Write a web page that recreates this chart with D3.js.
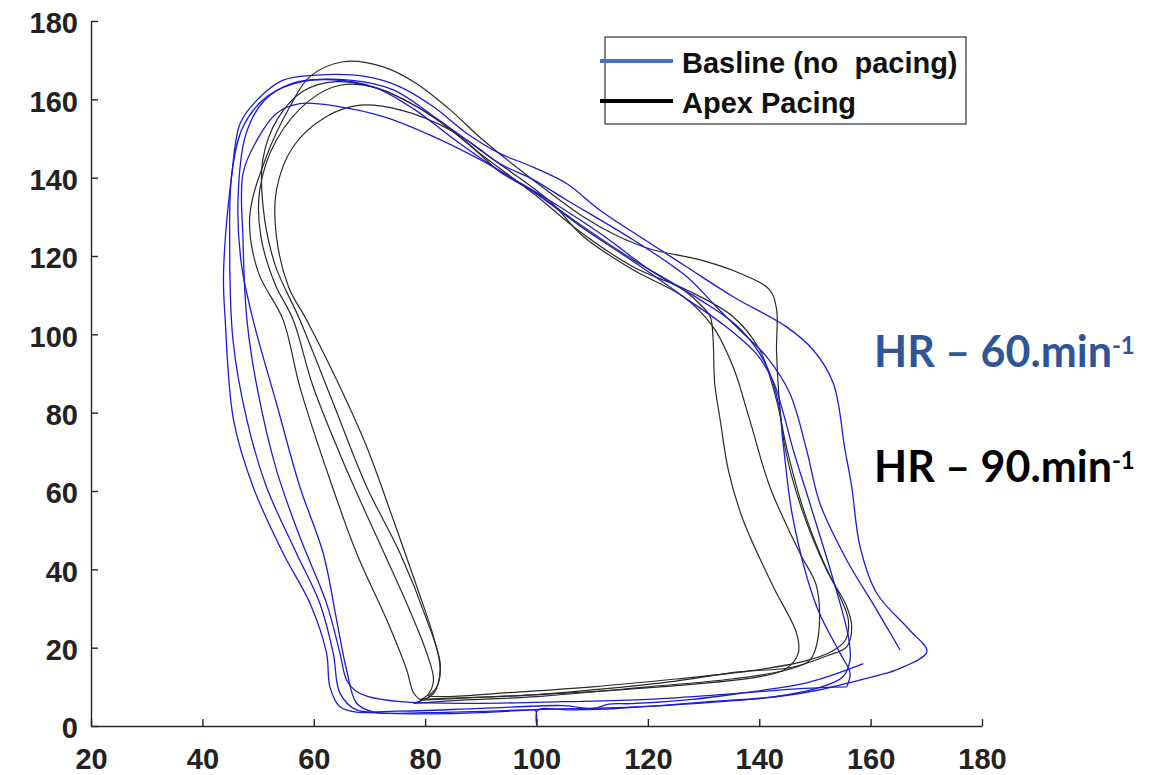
<!DOCTYPE html>
<html><head><meta charset="utf-8">
<script src="https://cdn.jsdelivr.net/npm/d3@7"></script>
<style>body{margin:0;background:#fff;}svg{display:block;}</style>
</head><body>
<svg id="chart" width="1157" height="775"></svg>
<script>
// ---- data: [volume, pressure] ----
const xTicks = [20,40,60,80,100,120,140,160,180];
const yTicks = [0,20,40,60,80,100,120,140,160,180];
const seriesNames = ["Basline (no  pacing)", "Apex Pacing"];
const hrLabels = ["HR \u2013 60.min", "HR \u2013 90.min"];
const hrSuper = ["-1", "-1"];

const baselineLoop1 = [[68,3.5],[80,3.1],[90,3.4],[97.8,4],[99.8,4],[100,0.4],[100.2,4],[106,4.1],[113.8,4.4],[121,5.1],[129.9,6.1],[142.7,7.4],[150,9],[155.5,10.8],[161,12.8],[165.1,14.6],[170.1,19],[167,24.5],[161.1,33.9],[158.1,45.8],[156.6,61.1],[155.4,70.5],[153.3,87.5],[149.7,96],[144.9,101.9],[135.3,109.6],[127,117.2],[118.6,124.9],[111.4,131.7],[105.4,138.5],[99.4,142.7],[93.4,146.2],[87.5,151.3],[81.5,158.1],[75.5,163.2],[69.5,165.8],[60.5,166.2],[54.5,164.9],[49.8,159.8],[46.8,153.9],[45.3,141.1],[43.8,115.6],[44.1,103.7],[45.6,78.1],[49.1,61.1],[54.5,44.1],[59.3,31.4],[62.3,18.6],[62.9,10],[64.7,4.9],[68,3.5]];
const baselineLoop2 = [[165.3,19.4],[161.1,29.6],[155.7,42.4],[150.9,56.8],[148.5,70.5],[145.5,84.9],[141.3,94.3],[136.5,101.1],[132.3,107],[127,114.7],[117.4,124.1],[105.4,134.3],[99.4,139.5],[93.4,143.6],[87.5,149.6],[81.5,155.7],[74.3,162.4],[66.5,164.9],[57.5,164.4],[51.6,160.7],[47.3,153],[45.3,141.1],[44.9,124.1],[45.5,98.5],[48,78.1],[51.5,61.1],[56.9,44.1],[61.1,31.3],[63.5,18.6],[64.7,8.4],[67.7,4.1],[75,3.8],[90,4.5],[105,5.2],[110,4.4],[113,5.6],[117,5.7],[128,6.8],[136.3,8.3],[149,11.2],[158.7,15.9]];
const baselineLoop3 = [[155.7,10],[156.3,13.5],[154.5,18.6],[150.3,30.5],[146.1,52.6],[144.3,72],[143.5,82],[141.3,92],[136.5,101.5],[129.4,108.8],[120.4,116.4],[111.4,125.8],[102,134.5],[96,139.5],[90.4,144.2],[81.5,150.5],[72.5,155.6],[64.7,158.1],[57.5,158.9],[53.3,156.4],[49.8,149.6],[47.3,141.1],[47.3,124.1],[48,103.7],[49.8,86.6],[53.3,65.4],[57.5,48.3],[62.3,31.3],[64.7,18.6],[65.9,11.7],[67.5,9],[69.5,7.6],[75.5,6.2],[90,5.8],[105,6.2],[120,6.8],[135,8.2],[148,9.6],[155.7,10]];
const baselineLoop4 = [[140,7],[150,9.5],[155,12.5],[156.3,16.8],[156,22.8],[153.3,37.3],[149.1,56.8],[146.1,70.5],[144.3,80],[142.5,88],[139.5,95],[134,102],[126,110],[118,118],[108,127.5],[99.4,136.5],[92,143],[85,150],[78,157.5],[71,163],[63.5,165],[56,164],[51,159.5],[47.8,151],[46.4,134.3],[47,118],[49.1,103.7],[53.3,82.4],[57.5,61.1],[61.7,44.1],[64.1,27.1],[65.9,14.3],[67.7,5.8],[70.7,3.6],[80,3.4],[100,4.2],[120,5],[140,7]];

const pacingLoop1 = [[79,6.8],[90,7.4],[97.8,7.8],[110,9.2],[123.5,11.2],[136.3,13.8],[145.9,15],[152.3,18],[155.7,20.2],[156.6,25.3],[155.7,30.5],[152.1,39.8],[147.3,56.8],[144.5,72],[143.5,85],[143.1,96],[143.1,106.5],[141.8,111.5],[136.5,115.6],[129.4,119],[120.4,121.8],[114,125.5],[108.4,130],[99.4,139.4],[90.4,149.6],[84.5,157.3],[78.5,164],[72.5,168.3],[65.3,169.6],[59.3,165.8],[55.7,158.1],[51.5,145.4],[48.5,130],[50,116],[54.5,103.7],[57.5,86.6],[62.3,65.4],[67.7,44.1],[73.1,27.1],[76.7,14.3],[77.9,8.5],[79,6.8]];
const pacingLoop2 = [[79.1,6.6],[85,7],[100,8],[122.2,10],[140.1,12.6],[144.9,14.7],[147,18.6],[146.7,23.7],[142.5,35.6],[137.1,52.6],[134.5,65],[133,78],[132,87.5],[131.7,99],[131.2,104.5],[129.5,107.5],[126.4,111.3],[117.4,119],[108.4,127.5],[99.4,136.5],[93.4,141.5],[87.5,149],[78.5,158.1],[70.7,163.2],[64.7,163.6],[59.3,159.8],[53.3,149.6],[50.3,136.8],[50.5,125],[53,113],[56.3,103.7],[59.9,86.6],[65.9,65.4],[71.3,48.3],[76.7,31.3],[80.3,18.6],[81.5,11.7],[80.5,8],[79.1,6.6]];
const pacingLoop3 = [[77.9,5.8],[85,6.5],[100,7.5],[120,10],[135,12],[144.9,14.3],[149.1,16.8],[150.6,22.8],[150.3,35.6],[147.3,44.1],[141.9,61.1],[138.3,78.1],[135.3,91.7],[131.7,101.9],[126.4,109.6],[117.4,116.4],[108.4,125],[102.4,134],[93.4,143.5],[84.5,152.2],[75.5,157.3],[68.3,158.5],[62.3,155.6],[56.3,147.9],[53.3,136.8],[53.3,125],[55.5,112],[58.7,103.7],[64.7,86.6],[69.5,71.3],[74.3,52.6],[78.5,35.6],[81.5,22.8],[82.7,14.3],[81.5,8.3],[77.9,5.8]];
const pacingLoop4 = [[80.5,7.6],[84,7.5],[95,8.5],[110,10],[125,12],[138,14],[148,16.5],[153,19],[155.5,22],[156,27],[154.5,33],[151.5,42],[148,55],[145,70.5],[143.1,83.2],[140.1,96],[135.3,104.5],[127,111.3],[117.4,117.2],[108,126],[99.4,136],[90,146],[81,156],[72,162.5],[64,164.5],[58,162],[53.5,155],[50.9,145],[50.9,132.6],[53,118],[57.5,103.7],[63.5,82.4],[69.5,61.1],[75.5,44.1],[80.3,27.1],[82.7,16],[82.1,10],[80.5,7.6]];

const baselineLoops = [baselineLoop1, baselineLoop2, baselineLoop3, baselineLoop4];
const pacingLoops = [pacingLoop1, pacingLoop2, pacingLoop3, pacingLoop4];

// ---- drawing ----
const svg = d3.select("#chart");
const x = d3.scaleLinear().domain([20,180]).range([91,982]);
const y = d3.scaleLinear().domain([0,180]).range([726,21]);
const line = d3.line().x(d => x(d[0])).y(d => y(d[1])).curve(d3.curveCatmullRom.alpha(0.5));

const font = "'Liberation Sans', Arial, Helvetica, sans-serif";

const gp = svg.append("g");
gp.selectAll("path.pace").data(pacingLoops).join("path")
  .attr("class","pace").attr("d", line)
  .attr("fill","none").attr("stroke","#2a2a2a").attr("stroke-width",1.2);
gp.selectAll("path.base").data(baselineLoops).join("path")
  .attr("class","base").attr("d", line)
  .attr("fill","none").attr("stroke","#1c1cd4").attr("stroke-width",1.3);

// axes
const xAxis = svg.append("g").attr("transform","translate(0,726)")
  .call(d3.axisBottom(x).tickValues(xTicks).tickSize(-7).tickSizeOuter(0).tickPadding(22).tickFormat(d3.format("d")));
const yAxis = svg.append("g").attr("transform","translate(91,0)")
  .call(d3.axisLeft(y).tickValues(yTicks).tickSize(-7).tickSizeOuter(0).tickPadding(13).tickFormat(d3.format("d")));
[xAxis, yAxis].forEach(g => {
  g.select(".domain").attr("stroke","#262626").attr("stroke-width",1.4);
  g.selectAll(".tick line").attr("stroke","#262626").attr("stroke-width",1.4);
  g.selectAll(".tick text").attr("fill","#222").style("font-family",font)
    .style("font-size","29px").style("font-weight","bold");
});
yAxis.selectAll(".tick text").attr("dy","0.41em");

// legend
const lg = svg.append("g");
lg.append("rect").attr("x",605).attr("y",37).attr("width",361).attr("height",87)
  .attr("fill","#fff").attr("stroke","#333").attr("stroke-width",1.2);
const legendColors = ["#4472C4", "#000"];
const legendY = [61, 101];
seriesNames.forEach((name, i) => {
  lg.append("line").attr("x1",600).attr("x2",673).attr("y1",legendY[i]).attr("y2",legendY[i])
    .attr("stroke",legendColors[i]).attr("stroke-width",4);
  lg.append("text").attr("x",682).attr("y",legendY[i]+12).text(name)
    .style("white-space","pre").style("font-family",font).style("font-size","29px")
    .style("font-weight","bold").attr("fill","#111");
});

// HR annotations
const hrColors = ["#2F5597", "#000"];
const hrY = [366.7, 481.7];
hrLabels.forEach((t, i) => {
  const tx = svg.append("text").attr("x",874).attr("y",hrY[i])
    .style("font-family","Lato, 'Open Sans', sans-serif").style("font-weight","bold")
    .style("font-size","43px").attr("fill",hrColors[i]).style("white-space","pre");
  tx.append("tspan").text(t);
  tx.append("tspan").attr("dy",-13).style("font-size","24px").text(hrSuper[i]);
});
</script>
</body></html>
